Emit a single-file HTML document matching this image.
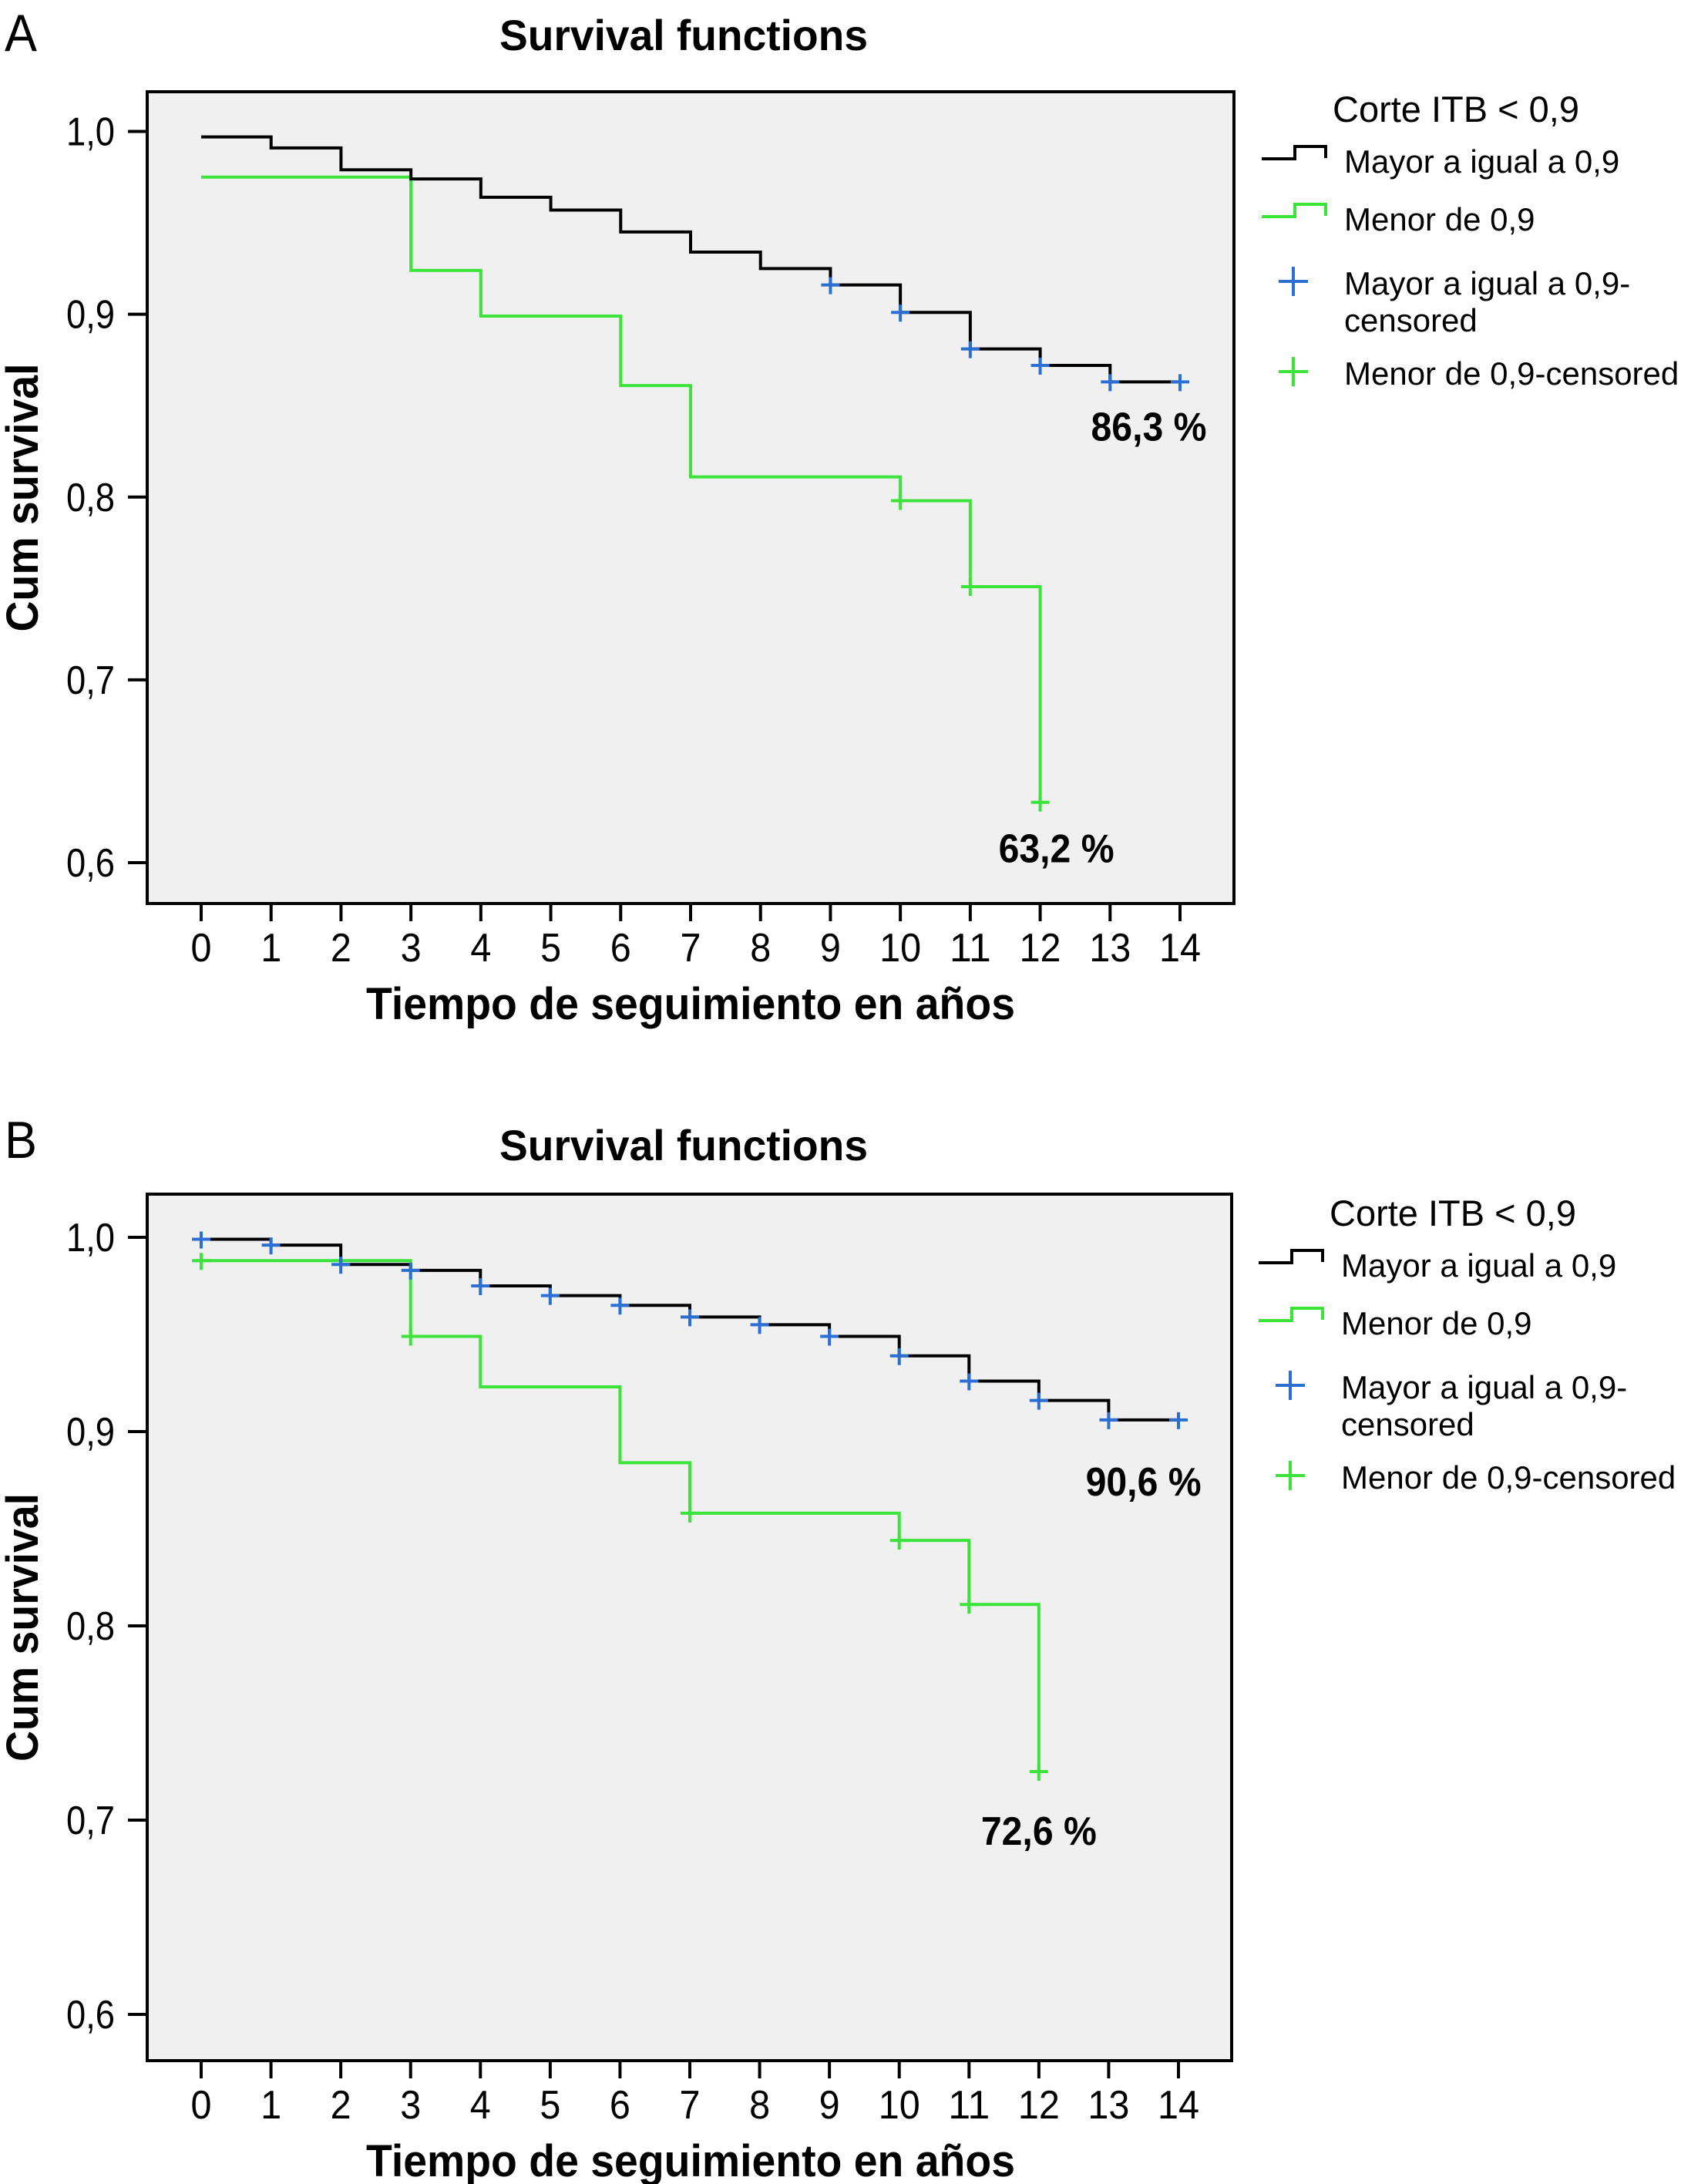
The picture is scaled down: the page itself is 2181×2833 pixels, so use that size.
<!DOCTYPE html>
<html><head><meta charset="utf-8">
<style>
html,body{margin:0;padding:0;background:#fff;}
svg{display:block;}
text{font-family:"Liberation Sans Narrow","Liberation Sans",sans-serif;fill:#000;}
</style></head>
<body>
<svg id="fig" xmlns="http://www.w3.org/2000/svg" width="2181" height="2833" viewBox="0 0 2181 2833"></svg>
<script>
// ---- data ----
const xTicks = [0,1,2,3,4,5,6,7,8,9,10,11,12,13,14];
const yTicks = [1.0,0.9,0.8,0.7,0.6];
const yTickLabels = ["1,0","0,9","0,8","0,7","0,6"];

const aBlackTimes = [0,1,2,3,4,5,6,7,8,9,10,11,12,13];
const aBlackVals  = [0.997,0.991,0.979,0.974,0.964,0.957,0.945,0.934,0.925,0.916,0.901,0.881,0.872,0.863];
const aBlackEnd = 14;
const aBlackCensT = [9,10,11,12,13,14];
const aBlackCensV = [0.916,0.901,0.881,0.872,0.863,0.863];
const aGreenTimes = [0,3,4,6,7,10,11,12];
const aGreenVals  = [0.975,0.924,0.899,0.861,0.811,0.798,0.751,0.633];
const aGreenEnd = 12;
const aGreenCensT = [10,11,12];
const aGreenCensV = [0.798,0.751,0.633];

const bBlackTimes = [0,1,2,3,4,5,6,7,8,9,10,11,12,13];
const bBlackVals  = [0.999,0.996,0.986,0.983,0.975,0.970,0.965,0.959,0.955,0.949,0.939,0.926,0.916,0.906];
const bBlackEnd = 14;
const bBlackCensT = [0,1,2,3,4,5,6,7,8,9,10,11,12,13,14];
const bBlackCensV = [0.999,0.996,0.986,0.983,0.975,0.970,0.965,0.959,0.955,0.949,0.939,0.926,0.916,0.906,0.906];
const bGreenTimes = [0,3,4,6,7,10,11,12];
const bGreenVals  = [0.988,0.949,0.923,0.884,0.858,0.844,0.811,0.725];
const bGreenEnd = 12;
const bGreenCensT = [0,3,7,10,11,12];
const bGreenCensV = [0.988,0.949,0.858,0.844,0.811,0.725];

const labelsA = ["86,3 %","63,2 %"];
const labelsB = ["90,6 %","72,6 %"];

const NS = "http://www.w3.org/2000/svg";
const svg = document.getElementById('fig');
const BLACK="#000", GREEN="#3be33b", BLUE="#2c6fd4";

function mk(tag, attrs, parent, txt){
  const e=document.createElementNS(NS,tag);
  for(const k in attrs) e.setAttribute(k,attrs[k]);
  if(txt!==undefined) e.textContent=txt;
  (parent||svg).appendChild(e);
  return e;
}

function panel(cfg){
  const g=mk('g',{});
  
  
  const X=t=>cfg.x0+(cfg.x14-cfg.x0)*t/14;
  const Y=v=>cfg.y1+(cfg.y06-cfg.y1)*(1-v)/0.4;

  const letter=mk('text',{x:6,y:cfg.letterY,'font-size':68,'font-family':'Liberation Sans Narrow, Liberation Sans, sans-serif',textLength:42,lengthAdjust:'spacingAndGlyphs'},g,cfg.letter);
  
  

  const title=mk('text',{x:887,y:cfg.titleY,'font-size':56,'font-weight':'bold','text-anchor':'middle',textLength:478,lengthAdjust:'spacingAndGlyphs'},g,'Survival functions');
  
  

  const bg=mk('rect',{x:cfg.left,y:cfg.top,width:cfg.right-cfg.left,height:cfg.bottom-cfg.top,fill:'#f0f0f0',stroke:'#000','stroke-width':4},g);
  
  

  yTicks.forEach((v,i)=>{
    const y=Y(v);
    const tk=mk('line',{x1:cfg.left-25,x2:cfg.left,y1:y,y2:y,stroke:'#000','stroke-width':4},g);
    
    
    const tl=mk('text',{x:cfg.left-42,y:y+18,'font-size':52,'text-anchor':'end',textLength:63,lengthAdjust:'spacingAndGlyphs'},g,yTickLabels[i]);
    
    
  });
  xTicks.forEach(t=>{
    const x=X(t);
    const tk=mk('line',{x1:x,x2:x,y1:cfg.bottom,y2:cfg.bottom+23,stroke:'#000','stroke-width':4},g);
    
    
    const s=String(t);
    const tl=mk('text',{x:x,y:cfg.bottom+75,'font-size':52,'text-anchor':'middle',textLength:27*s.length,lengthAdjust:'spacingAndGlyphs'},g,s);
    
    
  });
  const xt=mk('text',{x:896,y:cfg.bottom+150,'font-size':58,'font-weight':'bold','text-anchor':'middle',textLength:842,lengthAdjust:'spacingAndGlyphs'},g,'Tiempo de seguimiento en años');
  
  
  const yc=(cfg.top+cfg.bottom)/2;
  const yt=mk('text',{x:0,y:0,'font-size':58,'font-weight':'bold','text-anchor':'middle',transform:`translate(49 ${yc}) rotate(-90)`,textLength:348,lengthAdjust:'spacingAndGlyphs'},g,'Cum survival');
  
  

  function steps(times,vals,end,color,name){
    let d=`M${X(times[0])} ${Y(vals[0])}`;
    for(let i=1;i<times.length;i++){ d+=` H${X(times[i])} V${Y(vals[i])}`; }
    d+=` H${X(end)}`;
    const p=mk('path',{d:d,fill:'none',stroke:color,'stroke-width':4},g);
    
    
  }
  function cens(ts,vs,color,name){
    ts.forEach((t,i)=>{
      const x=X(t),y=Y(vs[i]);
      const p=mk('path',{d:`M${x-12} ${y} H${x+12} M${x} ${y-10} V${y+12}`,stroke:color,'stroke-width':4,fill:'none'},g);
      
      
    });
  }
  steps(cfg.gT,cfg.gV,cfg.gE,GREEN,'line-menor');
  steps(cfg.bT,cfg.bV,cfg.bE,BLACK,'line-mayor');
  cens(cfg.gCT,cfg.gCV,GREEN,'censored-menor');
  cens(cfg.bCT,cfg.bCV,BLUE,'censored-mayor');

  const l1=mk('text',{x:X(13.3)+cfg.l1dx,y:Y(cfg.bV[cfg.bV.length-1])+cfg.l1dy,'font-size':52,'font-weight':'bold','text-anchor':'middle',textLength:150,lengthAdjust:'spacingAndGlyphs'},g,cfg.labels[0]);
  
  
  const l2=mk('text',{x:X(cfg.gE)+cfg.l2dx,y:Y(cfg.gV[cfg.gV.length-1])+cfg.l2dy,'font-size':52,'font-weight':'bold','text-anchor':'middle',textLength:150,lengthAdjust:'spacingAndGlyphs'},g,cfg.labels[1]);
  
  

  const L=mk('g',{},g);
  
  
  const ly=cfg.legY;
  const lx=cfg.legX;
  const lt=mk('text',{x:lx+92,y:ly,'font-size':47,'font-family':'Liberation Sans, sans-serif'},L,'Corte ITB < 0,9');
  
  
  const ents=[
    {t:['Mayor a igual a 0,9'],dy:52,sym:'step',c:BLACK},
    {t:['Menor de 0,9'],dy:127,sym:'step',c:GREEN},
    {t:['Mayor a igual a 0,9-','censored'],dy:210,sym:'plus',c:BLUE},
    {t:['Menor de 0,9-censored'],dy:327,sym:'plus',c:GREEN}
  ];
  ents.forEach(e=>{
    const eg=mk('g',{},L);
    
    
    const by=ly+e.dy;
    if(e.sym==='step'){
      const s=mk('path',{d:`M${lx} ${by-4} H${lx+43} V${by-20} H${lx+83} V${by-5}`,fill:'none',stroke:e.c,'stroke-width':4},eg);
      
      
    } else {
      const cx=lx+41, cy=by-3;
      const s=mk('path',{d:`M${cx-19} ${cy} H${cx+19} M${cx} ${cy-19} V${cy+19}`,fill:'none',stroke:e.c,'stroke-width':4},eg);
      
      
    }
    e.t.forEach((s,k)=>{
      const t=mk('text',{x:lx+107,y:by+14+k*48,'font-size':42,'font-family':'Liberation Sans, sans-serif'},eg,s);
      
      
    });
  });
}

panel({name:'panel-a',letter:'A',letterY:66,titleY:65,left:191,right:1601,top:119,bottom:1172,
  x0:261,x14:1531,y1:170.5,y06:1119,
  bT:aBlackTimes,bV:aBlackVals,bE:aBlackEnd,bCT:aBlackCensT,bCV:aBlackCensV,
  gT:aGreenTimes,gV:aGreenVals,gE:aGreenEnd,gCT:aGreenCensT,gCV:aGreenCensV,
  labels:labelsA,l1dx:23,l1dy:76,l2dx:21,l2dy:78,legX:1637,legY:158});
panel({name:'panel-b',letter:'B',letterY:1502,titleY:1505,left:191,right:1598,top:1549,bottom:2673,
  x0:261,x14:1529,y1:1605,y06:2613,
  bT:bBlackTimes,bV:bBlackVals,bE:bBlackEnd,bCT:bBlackCensT,bCV:bBlackCensV,
  gT:bGreenTimes,gV:bGreenVals,gE:bGreenEnd,gCT:bGreenCensT,gCV:bGreenCensV,
  labels:labelsB,l1dx:18,l1dy:98,l2dx:0,l2dy:95,legX:1633,legY:1590});
</script>
</body></html>
